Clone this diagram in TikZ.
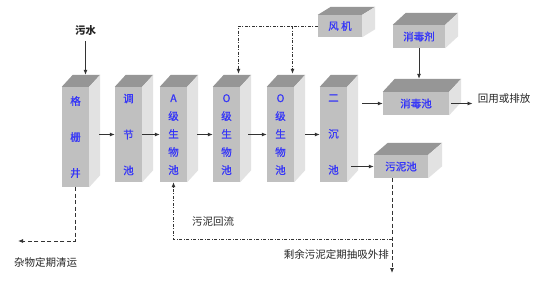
\documentclass[tikz,border=0pt]{standalone}
\usepackage{fontspec}
\setmainfont{Noto Sans CJK SC}
\newfontfamily\boxfont{Noto Sans CJK SC}[FakeBold=0.8]
\usetikzlibrary{arrows.meta,calc}
\definecolor{topc}{HTML}{969696}
\definecolor{frontc}{HTML}{C0C0C0}
\definecolor{sidec}{HTML}{E2E2E2}
\definecolor{txtb}{HTML}{3535F8}
\definecolor{linec}{HTML}{333333}
\newcommand\cubefaces[3]{%
  \fill[topc] (#1.north west) -- ++(#2,-#3) -- ([shift={(#2,-#3)}]#1.north east) -- (#1.north east) -- cycle;
  \fill[sidec] (#1.north east) -- ([shift={(#2,-#3)}]#1.north east) -- ([shift={(#2,-#3)}]#1.south east) -- (#1.south east) -- cycle;
}
\tikzset{
  front/.style={fill=frontc, inner sep=0pt, text=txtb},
  tallthree/.style={front, minimum width=27pt, minimum height=95pt, align=center, font=\boxfont\fontsize{10.5}{36}\selectfont},
  tallfive/.style={front, minimum width=27pt, minimum height=95pt, align=center, font=\boxfont\fontsize{10.5}{18}\selectfont},
  flat/.style={front, font=\boxfont\fontsize{10.5}{12}\selectfont},
  arr/.style={-{Latex[length=5pt,width=4pt]}, draw=linec, line width=0.8pt},
  dashln/.style={dash pattern=on 4pt off 2.5pt},
  dotdash/.style={dash pattern=on 3pt off 1.5pt on 1pt off 1.5pt},
  lbl/.style={text=black!85, font=\fontsize{10.5}{12}\selectfont, inner sep=0pt},
}
\begin{document}
\begin{tikzpicture}[x=1pt,y=-1pt]
\fill[white] (0,0) rectangle (534,297);
\useasboundingbox (0,0) rectangle (534,297);
% tall tanks
\node[tallthree, minimum height=100pt] (gs) at (75.5,137) {格\\栅\\井};
\node[tallthree] (tj) at (128.5,134.5) {调\\节\\池};
\node[tallfive] (ax) at (173.5,134.5) {A\\级\\生\\物\\池};
\node[tallfive] (o1) at (226.5,134.5) {O\\级\\生\\物\\池};
\node[tallfive] (o2) at (280.5,134.5) {O\\级\\生\\物\\池};
\node[tallthree] (ec) at (333.5,134.5) {二\\沉\\池};
% flat boxes
\node[flat, minimum width=44pt, minimum height=22pt] (fj) at (340,26) {风 机};
\node[flat, minimum width=52pt, minimum height=23pt] (xdj) at (419,36.5) {消毒剂};
\node[flat, minimum width=66pt, minimum height=23pt] (xdc) at (416,103.5) {消毒池};
\node[flat, minimum width=54pt, minimum height=23pt] (wnc) at (401,166.5) {污泥池};
\cubefaces{gs}{11}{12}
\cubefaces{tj}{11}{12}
\cubefaces{ax}{11}{12}
\cubefaces{o1}{11}{12}
\cubefaces{o2}{11}{12}
\cubefaces{ec}{11}{12}
\cubefaces{fj}{13}{8}
\cubefaces{xdj}{13}{12}
\cubefaces{xdc}{12}{13}
\cubefaces{wnc}{14}{12}
% labels
\node[lbl, font=\fontsize{10.5}{12}\selectfont\bfseries] (sw) at (85.5,31) {污水};
\node[lbl] (out) at (504,99) {回用或排放};
\node[lbl] (hl) at (213,222) {污泥回流};
\node[lbl, anchor=east] (sy) at (389,254) {剩余污泥定期抽吸外排};
\node[lbl] (zw) at (45.5,262) {杂物定期清运};
% helper coordinates
\coordinate (gstop) at ([shift={(11,-12)}]gs.north west);
\coordinate (xdctop) at ([shift={(12,-13)}]xdc.north west);
\coordinate (o1in) at ([shift={(12,-13)}]o1.north);
\coordinate (o2in) at ([shift={(12,-13)}]o2.north);
\coordinate (gsend) at (18,241);
\coordinate (wncend) at (392,273);
\coordinate (ret) at (172,239);
% connectors
\draw[arr] ([yshift=-5pt]sw.south) -- (sw.south |- gstop);
\draw[arr, shorten <=10pt] (gs.east |- tj.west) -- (tj.west);
\draw[arr] (tj.east) -- (ax.west);
\draw[arr, shorten <=10pt] (ax.east) -- (o1.west);
\draw[arr, shorten <=8pt] (o1.east) -- (o2.west);
\draw[arr, shorten <=11pt] (o2.east) -- (ec.west);
\draw[arr, shorten <=15pt] (ec.east |- xdc.west) -- (xdc.west);
\draw[arr, shorten <=4pt] (ec.east |- wnc.west) -- (wnc.west);
\draw[arr, shorten <=2pt, shorten >=5pt] (xdc.east) -- (xdc.east -| out.west);
\draw[arr] (xdj.south) -- (xdj.south |- xdctop);
\draw[arr, dotdash] (fj.west) -| (o1in);
\draw[arr, dotdash] (fj.west -| o2in) -- (o2in);
\draw[arr, dashln] (gs.south) |- (gsend);
\draw[arr, dashln] (wncend |- wnc.south) -- (wncend);
\draw[arr, dotdash] (wncend |- ret) -| (ax.south);
\end{tikzpicture}
\end{document}
